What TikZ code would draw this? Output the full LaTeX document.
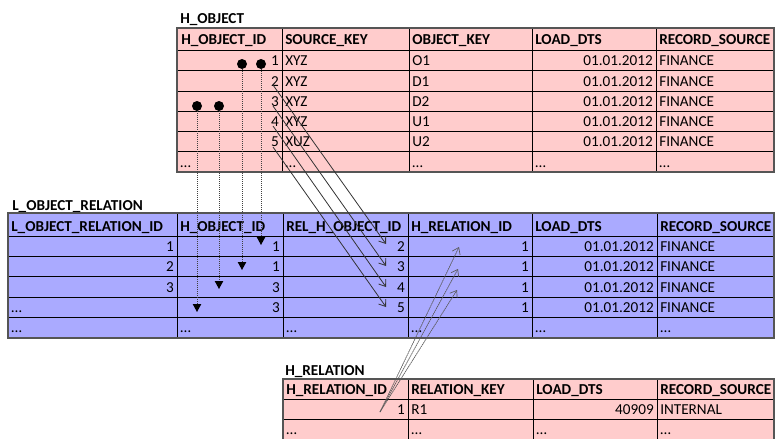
\documentclass[tikz,border=0pt]{standalone}
\usepackage{fontspec}
\setmainfont{Carlito}
\usetikzlibrary{arrows.meta}
\definecolor{hubpink}{RGB}{255,204,204}
\definecolor{linkblue}{RGB}{170,170,255}
\definecolor{framegray}{RGB}{85,85,85}
\begin{document}
\begin{tikzpicture}[x=0.75pt,y=-0.75pt,
  font=\fontsize{11.4}{13}\selectfont,
  lt/.style={anchor=base west,inner sep=0pt},
  rt/.style={anchor=base east,inner sep=0pt},
  hd/.style={lt,font=\fontsize{11.4}{13}\selectfont\bfseries},
  gridline/.style={black,line width=0.75pt},
  frameline/.style={draw=framegray,line width=1.4pt},
  keyflow/.style={black!80,line width=0.6pt,-{Straight Barb[length=4.5pt,width=6.5pt]}},
  relflow/.style={black!65,line width=0.5pt,dash pattern=on 1.2pt off 0.4pt,
    -{Straight Barb[length=4.5pt,width=6.5pt]}},
  idflow/.style={black!75,line width=0.5pt,dash pattern=on 0.75pt off 0.75pt,
    {Circle[length=7.5pt,black,line width=0pt]}-{Triangle[length=6pt,width=6.5pt,black,line width=0pt]}}]
\useasboundingbox (0,0) rectangle (775,439);

% ---------------- H_OBJECT ----------------
\node[hd] (t-ho) at (180,23) {H\_OBJECT};
\fill[hubpink] (177,28) rectangle (774,172);
\foreach \y in {50,70.5,91,111.3,131.6,151.8} \draw[gridline] (177,\y) -- (774,\y);
\foreach \x in {282,409,532,656} \draw[gridline] (\x,28) -- (\x,172);
\draw[frameline] (177,28) rectangle (774,172);
\node[hd] (ho-h1) at (181,45) {H\_OBJECT\_ID};
\node[hd] (ho-h2) at (285,45) {SOURCE\_KEY};
\node[hd] (ho-h3) at (412,45) {OBJECT\_KEY};
\node[hd] (ho-h4) at (535,45) {LOAD\_DTS};
\node[hd] (ho-h5) at (659,45) {RECORD\_SOURCE};
\foreach \r/\yb/\b/\c in {1/70.5/XYZ/O1,2/91/XYZ/D1,3/111.3/XYZ/D2,4/131.6/XYZ/U1,5/151.8/XUZ/U2}{
  \node[rt] (ho-\r-1) at (279,\yb-5) {\r};
  \node[lt] (ho-\r-2) at (285,\yb-5) {\b};
  \node[lt] (ho-\r-3) at (412,\yb-5) {\c};
  \node[rt] (ho-\r-4) at (653,\yb-5) {01.01.2012};
  \node[lt] (ho-\r-5) at (659,\yb-5) {FINANCE};
}
\foreach \c/\x in {1/180,2/285,3/412,4/535,5/659}
  \node[lt] (ho-6-\c) at (\x,167) {…};

% ---------------- L_OBJECT_RELATION ----------------
\node[hd] (t-lor) at (12,210) {L\_OBJECT\_RELATION};
\fill[linkblue] (8,213) rectangle (774,337.7);
\foreach \y in {236,256,276.7,297,317.7} \draw[gridline] (8,\y) -- (774,\y);
\foreach \x in {177,283,408,532,657} \draw[gridline] (\x,213) -- (\x,337.7);
\draw[frameline] (8,213) rectangle (774,337.7);
\node[hd] (lor-h1) at (11,231) {L\_OBJECT\_RELATION\_ID};
\node[hd] (lor-h2) at (180,231) {H\_OBJECT\_ID};
\node[hd] (lor-h3) at (286,231) {REL\_H\_OBJECT\_ID};
\node[hd] (lor-h4) at (411,231) {H\_RELATION\_ID};
\node[hd] (lor-h5) at (535,231) {LOAD\_DTS};
\node[hd] (lor-h6) at (660,231) {RECORD\_SOURCE};
\foreach \r/\yb/\a/\b/\c in {1/256/1/1/2,2/276.7/2/1/3,3/297/3/3/4}{
  \node[rt] (lor-\r-1) at (174,\yb-5) {\a};
  \node[rt] (lor-\r-2) at (280,\yb-5) {\b};
  \node[rt] (lor-\r-3) at (405,\yb-5) {\c};
  \node[rt] (lor-\r-4) at (529,\yb-5) {1};
  \node[rt] (lor-\r-5) at (654,\yb-5) {01.01.2012};
  \node[lt] (lor-\r-6) at (660,\yb-5) {FINANCE};
}
\node[lt] (lor-4-1) at (11,312.7) {…};
\node[rt] (lor-4-2) at (280,312.7) {3};
\node[rt] (lor-4-3) at (405,312.7) {5};
\node[rt] (lor-4-4) at (529,312.7) {1};
\node[rt] (lor-4-5) at (654,312.7) {01.01.2012};
\node[lt] (lor-4-6) at (660,312.7) {FINANCE};
\foreach \c/\x in {1/11,2/180,3/286,4/411,5/535,6/660}
  \node[lt] (lor-5-\c) at (\x,332.7) {…};

% ---------------- H_RELATION ----------------
\node[hd] (t-hr) at (285,375) {H\_RELATION};
\fill[hubpink] (283,379) rectangle (774,439);
\foreach \y in {399,419} \draw[gridline] (283,\y) -- (774,\y);
\foreach \x in {408,533,657} \draw[gridline] (\x,379) -- (\x,439);
\draw[frameline] (283,439) -- (283,379) -- (774,379) -- (774,439);
\node[hd] (hr-h1) at (286,394) {H\_RELATION\_ID};
\node[hd] (hr-h2) at (411,394) {RELATION\_KEY};
\node[hd] (hr-h3) at (536,394) {LOAD\_DTS};
\node[hd] (hr-h4) at (660,394) {RECORD\_SOURCE};
\node[rt] (hr-1-1) at (405,414) {1};
\node[lt] (hr-1-2) at (411,414) {R1};
\node[rt] (hr-1-3) at (654,414) {40909};
\node[lt] (hr-1-4) at (660,414) {INTERNAL};
\foreach \c/\x in {1/286,2/411,3/536,4/660}
  \node[lt] (hr-2-\c) at (\x,434) {…};

% ---------------- H_OBJECT_ID lookups (dotted) ----------------
\coordinate (idA) at (261,59);  \coordinate (idA') at (261,245);
\coordinate (idB) at (242,59);  \coordinate (idB') at (242,270);
\coordinate (idC) at (219,101); \coordinate (idC') at (219,289);
\coordinate (idD) at (197,101); \coordinate (idD') at (197,312);
\draw[idflow] (idA) -- (idA');
\draw[idflow] (idB) -- (idB');
\draw[idflow] (idC) -- (idC');
\draw[idflow] (idD) -- (idD');

% ---------------- related object ids ----------------
\coordinate (rk2) at (273,85);  \coordinate (rk2') at (386,244);
\coordinate (rk3) at (273,106); \coordinate (rk3') at (386,266);
\coordinate (rk4) at (273,126); \coordinate (rk4') at (386,287);
\coordinate (rk5) at (273,147); \coordinate (rk5') at (386,307);
\draw[keyflow] (rk2) -- (rk2');
\draw[keyflow] (rk3) -- (rk3');
\draw[keyflow] (rk4) -- (rk4');
\draw[keyflow] (rk5) -- (rk5');

% ---------------- H_RELATION_ID references ----------------
\coordinate (hrs) at (380,412);
\coordinate (hrA) at (459,247);
\coordinate (hrB) at (458,269);
\coordinate (hrC) at (457,290);
\draw[relflow] (hrs) -- (hrA);
\draw[relflow] (hrs) -- (hrB);
\draw[relflow] (hrs) -- (hrC);
\end{tikzpicture}
\end{document}
